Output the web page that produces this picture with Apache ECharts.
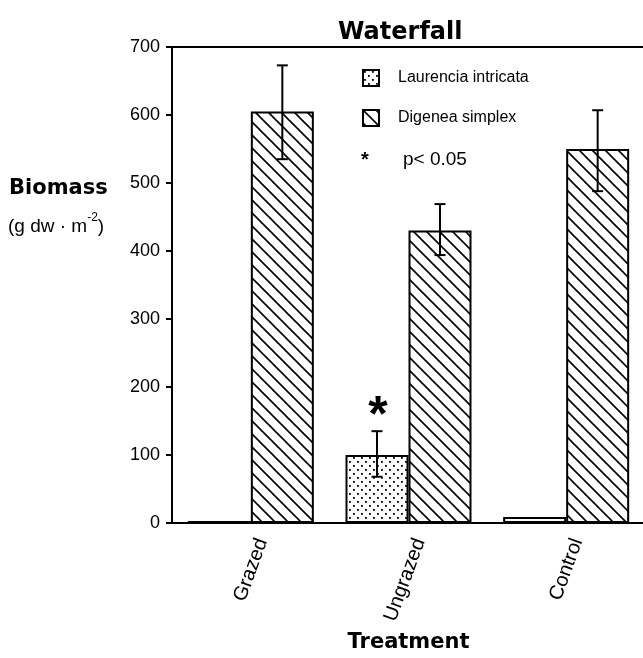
<!DOCTYPE html>
<html><head><meta charset="utf-8">
<script src="https://cdn.jsdelivr.net/npm/echarts@6/dist/echarts.min.js"></script>
<style>html,body{margin:0;padding:0;background:#fff}#c{width:643px;height:658px}</style>
</head><body><div id="c"></div>
<script>
// ---- data ----
const categories = ['Grazed', 'Ungrazed', 'Control'];
const seriesNames = ['Laurencia intricata', 'Digenea simplex'];
const laurencia = [3, 100, 9];
const digenea = [605, 430, 550];
const laurenciaLow = [null, 68, null];
const laurenciaHigh = [null, 135, null];
const digeneaLow = [535, 394, 488];
const digeneaHigh = [673, 469, 607];
const significance = ['', '*', ''];
const yMin = 0, yMax = 700, yStep = 100;
const title = 'Waterfall';
const yName = 'Biomass';
const xName = 'Treatment';
const sigNote = 'p< 0.05';

// ---- patterns ----
function hatchTile() {
  const s = 13, c = document.createElement('canvas');
  c.width = s; c.height = s;
  const g = c.getContext('2d');
  g.fillStyle = '#fff'; g.fillRect(0, 0, s, s);
  g.strokeStyle = '#000'; g.lineWidth = 1.6;
  g.beginPath();
  g.moveTo(-2, -2); g.lineTo(s + 2, s + 2);
  g.moveTo(-2, s - 2); g.lineTo(2, s + 2);
  g.moveTo(s - 2, -2); g.lineTo(s + 2, 2);
  g.stroke();
  return c;
}
function dotTile() {
  const s = 8, c = document.createElement('canvas');
  c.width = s; c.height = s;
  const g = c.getContext('2d');
  g.fillStyle = '#fff'; g.fillRect(0, 0, s, s);
  g.fillStyle = '#000';
  g.fillRect(1, 1, 1.8, 1.8);
  g.fillRect(5, 5, 1.8, 1.8);
  return c;
}
const dotFill = { image: dotTile(), repeat: 'repeat' };
const hatchFill = { image: hatchTile(), repeat: 'repeat' };

const BAR_W = 63;
const FONT = 'Liberation Sans, Arial, sans-serif';
const BOLD = 'DejaVu Sans, sans-serif';

function errorSeries(low, high, side, sig) {
  const data = [];
  categories.forEach((c, i) => {
    if (low[i] != null && high[i] != null) data.push([i, low[i], high[i], sig ? sig[i] : '']);
  });
  return {
    type: 'custom',
    data: data,
    encode: { x: 0, y: [1, 2] },
    z: 5,
    silent: true,
    renderItem: function (params, api) {
      const i = api.value(0);
      const pLo = api.coord([i, api.value(1)]);
      const pHi = api.coord([i, api.value(2)]);
      const x = pLo[0] + side * BAR_W / 2;
      const cap = 5.5;
      const st = { stroke: '#000', lineWidth: 2 };
      const ch = [
        { type: 'line', shape: { x1: x, y1: pLo[1], x2: x, y2: pHi[1] }, style: st },
        { type: 'line', shape: { x1: x - cap, y1: pHi[1], x2: x + cap, y2: pHi[1] }, style: st },
        { type: 'line', shape: { x1: x - cap, y1: pLo[1], x2: x + cap, y2: pLo[1] }, style: st }
      ];
      const s = data[params.dataIndex][3];
      if (s) {
        ch.push({ type: 'text', x: x + 1, y: pHi[1] - 14, style: {
          text: s, fontSize: 50, fontFamily: FONT, fontWeight: 'bold', fill: '#000',
          align: 'center', verticalAlign: 'middle' } });
      }
      return { type: 'group', children: ch };
    }
  };
}

const chart = echarts.init(document.getElementById('c'), null, { renderer: 'canvas' });
chart.setOption({
  backgroundColor: '#fff',
  animation: false,
  title: {
    text: title, left: 333, top: 16,
    textStyle: { fontFamily: BOLD, fontWeight: 'bold', fontSize: 24, color: '#000' }
  },
  legend: {
    data: seriesNames, orient: 'vertical', left: 362, top: 69, padding: 0,
    itemWidth: 16, itemHeight: 16, itemGap: 22, icon: 'rect',
    textStyle: { fontFamily: FONT, fontSize: 16, color: '#000', padding: [0, 0, 0, 14] }
  },
  grid: { left: 172, right: -2, top: 47, bottom: 135, containLabel: false, outerBoundsMode: 'none' },
  xAxis: [{
    type: 'category', data: categories,
    axisLine: { lineStyle: { color: '#000', width: 2 } },
    axisTick: { alignWithLabel: true, length: 7, lineStyle: { color: '#000', width: 2 } },
    axisLabel: { rotate: 70, fontFamily: FONT, fontSize: 20, color: '#000', margin: 12,
      verticalAlign: 'top', lineHeight: 24 },
    name: xName, nameLocation: 'middle', nameGap: 107,
    nameTextStyle: { fontFamily: BOLD, fontWeight: 'bold', fontSize: 21, color: '#000' }
  }, {
    type: 'category', data: categories, position: 'top',
    axisLine: { lineStyle: { color: '#000', width: 2 } },
    axisTick: { show: false }, axisLabel: { show: false }
  }],
  yAxis: {
    type: 'value', min: yMin, max: yMax, interval: yStep,
    axisLine: { show: true, lineStyle: { color: '#000', width: 2 } },
    axisTick: { show: true, length: 6, lineStyle: { color: '#000', width: 2 } },
    splitLine: { show: false },
    axisLabel: { fontFamily: FONT, fontSize: 18, color: '#000', margin: 12 }
  },
  graphic: [
    { type: 'text', left: 9, top: 178, style: { text: yName, fontFamily: BOLD, fontWeight: 'bold', fontSize: 21, fill: '#000' } },
    { type: 'text', left: 8, top: 212, style: {
      text: '{a|(g dw · m}{s|-2}{a|)}',
      rich: { a: { fontFamily: FONT, fontSize: 19, color: '#000', lineHeight: 24, verticalAlign: 'bottom' },
              s: { fontFamily: FONT, fontSize: 12, color: '#000', lineHeight: 24, verticalAlign: 'top' } } } },
    { type: 'text', x: 365, y: 160, style: { text: '*', fontFamily: FONT, fontWeight: 'bold', fontSize: 20, fill: '#000', align: 'center', verticalAlign: 'middle' } },
    { type: 'text', x: 403, y: 160, style: { text: sigNote, fontFamily: FONT, fontSize: 19, fill: '#000', align: 'left', verticalAlign: 'middle' } }
  ],
  series: [
    { name: seriesNames[0], type: 'bar', data: laurencia, barWidth: BAR_W, barGap: '0%',
      itemStyle: { color: dotFill, borderColor: '#000', borderWidth: 2 } },
    { name: seriesNames[1], type: 'bar', data: digenea, barWidth: BAR_W, barGap: '0%',
      itemStyle: { color: hatchFill, borderColor: '#000', borderWidth: 2 } },
    errorSeries(laurenciaLow, laurenciaHigh, -1, significance),
    errorSeries(digeneaLow, digeneaHigh, 1, null)
  ]
});
</script></body></html>
